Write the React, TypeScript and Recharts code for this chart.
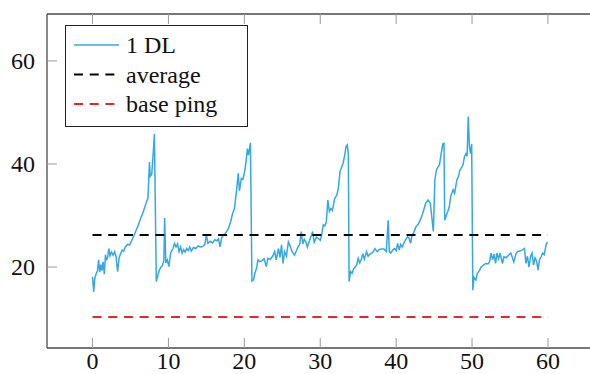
import { LineChart, Line, XAxis, YAxis, Legend } from "recharts";

// seconds / ping in ms
const TIME = [
  0.0, 0.15, 0.3, 0.5, 0.65, 0.8, 0.95, 1.1, 1.25, 1.4, 1.55, 1.7, 1.85, 2.0, 2.15, 2.3, 2.5, 2.7, 2.9, 3.1,
  3.3, 3.5, 3.7, 3.9, 4.1, 4.3, 4.6, 4.9, 5.1, 5.4, 5.7, 6.0, 6.3, 6.6, 6.9, 7.1, 7.3, 7.5, 7.6, 7.8,
  8.0, 8.15, 8.4, 8.6, 8.8, 9.0, 9.2, 9.4, 9.5, 9.65, 9.85, 10.05, 10.3, 10.6, 10.8, 11.0, 11.2, 11.4, 11.6, 11.8,
  12.0, 12.2, 12.4, 12.6, 12.8, 13.0, 13.3, 13.6, 13.9, 14.2, 14.5, 14.8, 15.0, 15.2, 15.5, 15.8, 16.1, 16.4, 16.6, 16.8,
  17.0, 17.2, 17.5, 17.9, 18.2, 18.4, 18.7, 18.95, 19.2, 19.35, 19.6, 19.8, 20.05, 20.25, 20.4, 20.55, 20.8, 21.0, 21.2, 21.4,
  21.6, 21.8, 22.0, 22.3, 22.6, 22.9, 23.1, 23.4, 23.7, 24.0, 24.2, 24.5, 24.7, 24.9, 25.1, 25.3, 25.55, 25.8, 26.1, 26.3,
  26.6, 26.9, 27.1, 27.3, 27.5, 27.7, 27.9, 28.1, 28.3, 28.6, 29.0, 29.2, 29.5, 29.8, 30.0, 30.2, 30.4, 30.6, 30.8, 31.0,
  31.2, 31.4, 31.6, 31.9, 32.2, 32.4, 32.6, 33.0, 33.2, 33.4, 33.55, 33.7, 33.8, 34.0, 34.2, 34.4, 34.6, 34.8, 35.0, 35.2,
  35.4, 35.6, 35.8, 36.1, 36.3, 36.6, 36.9, 37.2, 37.5, 37.8, 38.1, 38.4, 38.7, 38.95, 39.1, 39.3, 39.6, 39.8, 40.0, 40.2,
  40.4, 40.6, 40.8, 41.0, 41.2, 41.5, 41.7, 41.9, 42.1, 42.3, 42.6, 42.9, 43.2, 43.5, 43.7, 43.9, 44.2, 44.5, 44.9, 45.1,
  45.3, 45.5, 45.7, 45.9, 46.15, 46.3, 46.4, 46.6, 46.8, 47.0, 47.2, 47.5, 47.7, 48.0, 48.2, 48.4, 48.6, 48.8, 49.0, 49.2,
  49.35, 49.5, 49.65, 49.8, 49.95, 50.1, 50.25, 50.5, 50.7, 51.0, 51.2, 51.5, 51.8, 52.1, 52.3, 52.5, 52.7, 52.9, 53.1, 53.3,
  53.5, 53.7, 54.0, 54.2, 54.5, 54.8, 55.1, 55.3, 55.5, 55.8, 56.0, 56.3, 56.6, 56.9, 57.1, 57.3, 57.5, 57.7, 57.9, 58.1,
  58.3, 58.5, 58.7, 58.9, 59.1, 59.3, 59.5, 59.8, 60.0,
];

const PING_1DL = [
  18.1, 15.2, 17.9, 18.8, 19.2, 21.4, 19.0, 20.5, 19.3, 21.0, 18.6, 22.4, 21.3, 22.0, 23.6, 22.2, 22.9, 22.3, 23.0, 22.1,
  19.1, 21.8, 22.6, 23.3, 23.1, 23.8, 24.4, 24.3, 25.0, 25.9, 27.0, 28.0, 29.3, 30.4, 31.7, 32.6, 33.4, 40.4, 37.6, 38.0,
  42.2, 45.8, 17.2, 18.4, 19.4, 20.0, 20.3, 21.3, 29.5, 20.8, 21.4, 20.1, 22.8, 23.6, 24.6, 23.9, 24.5, 23.0, 23.9, 22.7,
  23.4, 22.9, 23.6, 23.2, 23.9, 23.1, 23.8, 23.6, 24.1, 23.9, 24.0, 24.4, 26.3, 24.6, 25.0, 24.7, 25.3, 25.1, 25.5, 23.9,
  25.6, 26.2, 26.5, 27.5, 28.8, 30.1, 31.4, 34.6, 38.2, 34.8, 37.2, 37.0, 38.6, 40.8, 43.0, 41.7, 44.1, 17.3, 17.5, 18.9,
  19.7, 21.4, 21.1, 21.2, 21.6, 20.1, 21.7, 21.5, 22.0, 23.0, 21.4, 23.6, 21.9, 24.3, 20.7, 23.0, 22.1, 24.9, 23.8, 23.0,
  22.3, 23.3, 24.0, 24.5, 26.9, 24.5, 25.4, 24.9, 23.9, 25.2, 26.9, 24.8, 25.8, 25.5, 25.2, 26.4, 28.2, 28.0, 28.8, 33.0,
  30.8, 31.4, 31.0, 33.3, 34.0, 35.5, 38.5, 40.1, 41.5, 43.4, 43.7, 42.0, 17.2, 19.1, 18.8, 19.7, 20.0, 20.4, 21.7, 20.8,
  21.4, 22.6, 21.5, 23.0, 22.1, 22.6, 22.8, 23.6, 23.0, 23.4, 23.5, 23.5, 23.0, 29.1, 23.0, 22.7, 23.4, 23.6, 23.2, 24.6,
  23.3, 24.4, 23.9, 24.6, 25.2, 25.9, 25.6, 24.6, 26.2, 26.6, 27.8, 28.3, 29.2, 30.4, 31.4, 32.4, 33.0, 32.4, 26.9, 36.9,
  38.8, 39.4, 39.8, 41.7, 43.9, 44.0, 29.1, 30.0, 30.8, 31.7, 33.8, 35.0, 34.3, 36.9, 37.5, 38.8, 39.3, 39.8, 41.4, 42.0,
  41.5, 49.2, 43.4, 42.0, 43.9, 15.5, 18.0, 17.5, 18.8, 19.4, 20.0, 20.4, 20.7, 20.6, 21.0, 22.7, 21.4, 22.5, 20.7, 22.7,
  21.6, 22.7, 20.7, 22.0, 21.8, 22.3, 22.7, 21.9, 21.0, 22.6, 23.0, 23.1, 23.3, 23.6, 20.7, 22.1, 20.0, 22.0, 22.7, 20.4,
  21.8, 21.2, 19.4, 21.5, 22.0, 22.7, 22.4, 24.6, 24.8,
];

const AVERAGE_PING = 26.2;
const BASE_PING = 10.3;

const X_TICKS = [0, 10, 20, 30, 40, 50, 60];
const Y_TICKS = [20, 40, 60];

const SERIF = "Liberation Serif";
const AXIS = "#4a4a4a";
const TICK = "#9a9a9a";
const DASH = "9 6.7";

const data = TIME.map((t, i) => ({ t, dl: PING_1DL[i] }));
const span = [TIME[0], TIME[TIME.length - 1]];
const avgData = span.map((t) => ({ t, avg: AVERAGE_PING }));
const baseData = span.map((t) => ({ t, base: BASE_PING }));

// a serif label; font set both as attribute and as inline style
const Label = ({ x, y, anchor, children }: any) => (
  <text
    x={x}
    y={y}
    textAnchor={anchor}
    fontFamily={SERIF}
    fontSize="24px"
    fill="#111"
    style={{ fontFamily: SERIF, fontSize: "24px" }}
  >
    {children}
  </text>
);

const BottomTick = ({ x, y, payload }: any) => (
  <g>
    <line x1={x} x2={x} y1={y} y2={y - 10} stroke={TICK} strokeWidth={1} />
    <Label x={x} y={y + 21} anchor="middle">
      {payload.value}
    </Label>
  </g>
);

const TopTick = ({ x, y }: any) => (
  <line x1={x} x2={x} y1={y} y2={y + 10} stroke={TICK} strokeWidth={1} />
);

const LeftTick = ({ x, y, payload }: any) => (
  <g>
    <line x1={x} x2={x + 10} y1={y} y2={y} stroke={TICK} strokeWidth={1} />
    <Label x={x - 12} y={y + 8} anchor="end">
      {payload.value}
    </Label>
  </g>
);

const RightTick = ({ x, y }: any) => (
  <line x1={x} x2={x - 10} y1={y} y2={y} stroke={TICK} strokeWidth={1} />
);

function LegendBox({ payload }: any) {
  return (
    <svg width={183} height={102} style={{ display: "block" }}>
      <rect x={0.5} y={0.5} width={182} height={101} fill="#fff" stroke="#222" strokeWidth={1} />
      {(payload || []).map((e: any, i: number) => {
        const cy = 20 + i * 29.5;
        return (
          <g key={e.value}>
            <line
              x1={9}
              x2={54}
              y1={cy}
              y2={cy}
              stroke={e.color}
              strokeWidth={e.payload?.strokeDasharray ? 2 : 1.5}
              strokeDasharray={e.payload?.strokeDasharray}
            />
            <Label x={61} y={cy + 8} anchor="start">
              {e.value}
            </Label>
          </g>
        );
      })}
    </svg>
  );
}

export default function App() {
  return (
    <div
      style={{
        position: "absolute",
        left: 0,
        top: 0,
        width: 590,
        height: 374,
        overflow: "hidden",
        background: "#fff",
        fontFamily: SERIF,
      }}
    >
      <LineChart width={610} height={374} data={data} margin={{ top: 0, right: 0, bottom: 0, left: 0 }}>
        <XAxis
          xAxisId="b"
          dataKey="t"
          type="number"
          domain={[-6, 66]}
          ticks={X_TICKS}
          interval={0}
          height={26}
          tickSize={0}
          tickMargin={0}
          axisLine={{ stroke: AXIS, strokeWidth: 1.3 }}
          tickLine={false}
          tick={BottomTick}
        />
        <XAxis
          xAxisId="t"
          orientation="top"
          dataKey="t"
          type="number"
          domain={[-6, 66]}
          ticks={X_TICKS}
          interval={0}
          height={14}
          tickSize={0}
          tickMargin={0}
          axisLine={{ stroke: AXIS, strokeWidth: 1.3 }}
          tickLine={false}
          tick={TopTick}
        />
        <YAxis
          yAxisId="l"
          type="number"
          domain={[4.3, 69.1]}
          ticks={Y_TICKS}
          interval={0}
          width={47}
          tickSize={0}
          tickMargin={0}
          axisLine={{ stroke: AXIS, strokeWidth: 1.3 }}
          tickLine={false}
          tick={LeftTick}
        />
        <YAxis
          yAxisId="r"
          orientation="right"
          type="number"
          domain={[4.3, 69.1]}
          ticks={Y_TICKS}
          interval={0}
          width={16.5}
          tickSize={0}
          tickMargin={0}
          axisLine={{ stroke: AXIS, strokeWidth: 1.3 }}
          tickLine={false}
          tick={RightTick}
        />
        <Line
          xAxisId="b"
          yAxisId="l"
          name="1 DL"
          dataKey="dl"
          stroke="#35a8e0"
          strokeWidth={1.5}
          dot={false}
          activeDot={false}
          isAnimationActive={false}
        />
        <Line
          xAxisId="b"
          yAxisId="l"
          name="average"
          data={avgData}
          dataKey="avg"
          stroke="#000"
          strokeWidth={2}
          strokeDasharray={DASH}
          dot={false}
          activeDot={false}
          isAnimationActive={false}
        />
        <Line
          xAxisId="b"
          yAxisId="l"
          name="base ping"
          data={baseData}
          dataKey="base"
          stroke="#e8262b"
          strokeWidth={2}
          strokeDasharray={DASH}
          dot={false}
          activeDot={false}
          isAnimationActive={false}
        />
        <Legend
          layout="vertical"
          align="center"
          verticalAlign="middle"
          content={LegendBox}
          wrapperStyle={{ left: 65, top: 25, width: 183, height: 102 }}
        />
      </LineChart>
    </div>
  );
}
